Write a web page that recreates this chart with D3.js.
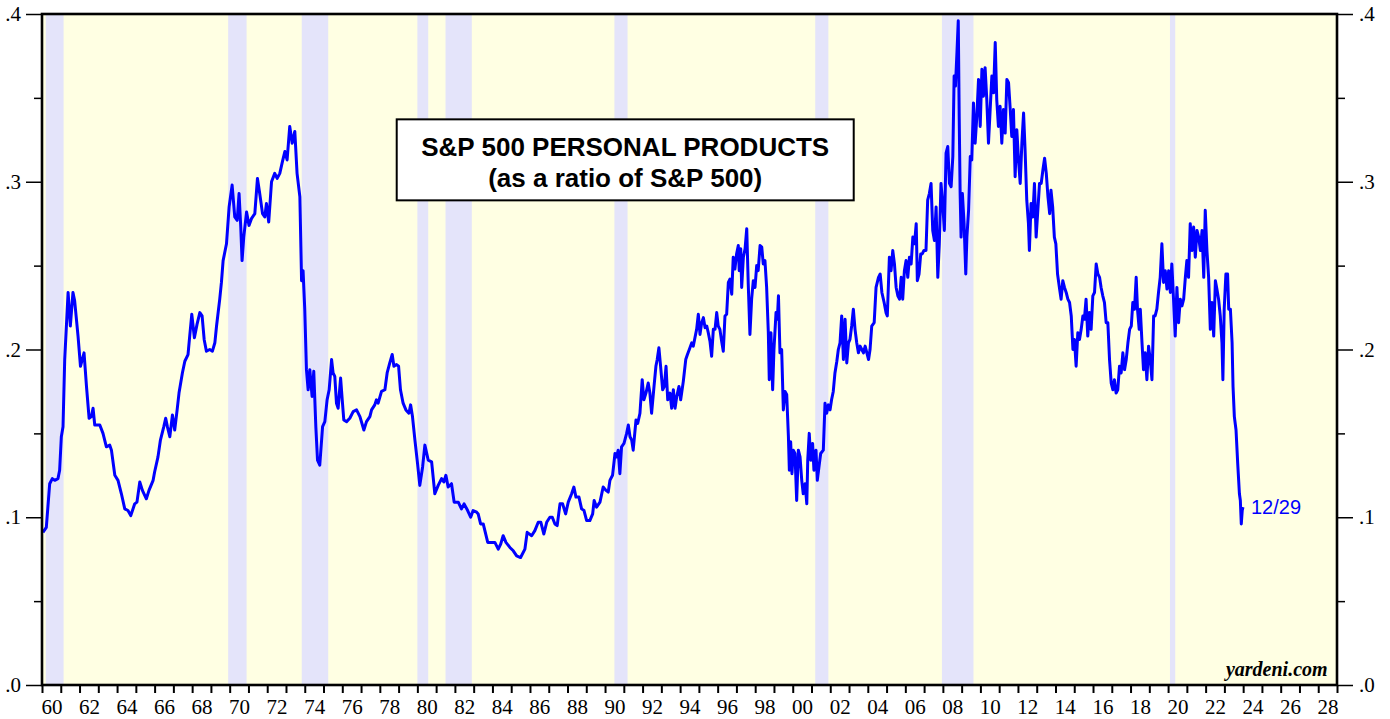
<!DOCTYPE html>
<html>
<head>
<meta charset="utf-8">
<script src="https://cdn.jsdelivr.net/npm/d3@7"></script>
<style>
  body { margin: 0; background: #fff; }
  svg { display: block; }
  .tick text { font-family: "Liberation Serif", "Times New Roman", serif; font-size: 21px; fill: #000; }
</style>
</head>
<body>
<svg width="1390" height="719"></svg>
<script>
// recessions (start, end) in decimal years
const recessions = [
  [1960.2, 1961.15], [1969.92, 1970.9], [1973.84, 1975.25], [1980.0, 1980.58],
  [1981.5, 1982.9], [1990.5, 1991.2], [2001.2, 2001.9], [2007.95, 2009.63], [2020.1, 2020.38]
];

const yTicks = [0, 0.1, 0.2, 0.3, 0.4];
const yMinorTicks = [0.05, 0.15, 0.25, 0.35];
const xLabelYears = d3.range(1960, 2029, 2);

// S&P 500 Personal Products as ratio of S&P 500
const dates = [
  1960.05, 1960.23, 1960.41, 1960.55, 1960.68, 1960.85, 1960.94, 1961.03, 1961.12, 1961.21,
  1961.39, 1961.51, 1961.65, 1961.74, 1961.92, 1962.05, 1962.24, 1962.37, 1962.51, 1962.63,
  1962.72, 1962.81, 1963.08, 1963.25, 1963.43, 1963.61, 1963.70, 1963.88, 1964.05, 1964.23,
  1964.41, 1964.58, 1964.73, 1964.94, 1965.06, 1965.21, 1965.35, 1965.56, 1965.70, 1965.92,
  1966.00, 1966.18, 1966.31, 1966.49, 1966.59, 1966.68, 1966.81, 1966.95, 1967.07, 1967.20,
  1967.30, 1967.48, 1967.61, 1967.78, 1967.87, 1967.98, 1968.12, 1968.26, 1968.41, 1968.53,
  1968.64, 1968.76, 1968.94, 1969.08, 1969.21, 1969.30, 1969.47, 1969.56, 1969.65, 1969.83,
  1969.97, 1970.13, 1970.27, 1970.40, 1970.50, 1970.59, 1970.66, 1970.75, 1970.90, 1971.03,
  1971.16, 1971.34, 1971.48, 1971.60, 1971.75, 1971.87, 1971.96, 1972.08, 1972.23, 1972.40,
  1972.53, 1972.67, 1972.81, 1972.94, 1973.06, 1973.20, 1973.33, 1973.47, 1973.59, 1973.74,
  1973.83, 1973.91, 1974.00, 1974.09, 1974.18, 1974.27, 1974.39, 1974.48, 1974.59, 1974.68,
  1974.80, 1974.95, 1975.07, 1975.19, 1975.30, 1975.43, 1975.51, 1975.60, 1975.69, 1975.78,
  1975.91, 1976.01, 1976.08, 1976.23, 1976.40, 1976.58, 1976.76, 1976.94, 1977.15, 1977.29,
  1977.47, 1977.56, 1977.73, 1977.82, 1977.91, 1978.09, 1978.27, 1978.39, 1978.53, 1978.66,
  1978.75, 1978.89, 1979.00, 1979.10, 1979.24, 1979.39, 1979.55, 1979.64, 1979.74, 1979.87,
  1980.01, 1980.13, 1980.28, 1980.40, 1980.58, 1980.76, 1980.93, 1981.11, 1981.29, 1981.41,
  1981.52, 1981.64, 1981.82, 1981.96, 1982.18, 1982.35, 1982.49, 1982.68, 1982.84, 1982.97,
  1983.16, 1983.24, 1983.37, 1983.51, 1983.75, 1983.96, 1984.13, 1984.31, 1984.44, 1984.57,
  1984.72, 1984.93, 1985.11, 1985.29, 1985.50, 1985.73, 1985.85, 1986.09, 1986.26, 1986.44,
  1986.58, 1986.74, 1986.89, 1987.06, 1987.19, 1987.33, 1987.45, 1987.60, 1987.74, 1987.90,
  1988.04, 1988.22, 1988.34, 1988.45, 1988.61, 1988.75, 1988.88, 1989.02, 1989.19, 1989.34,
  1989.42, 1989.55, 1989.73, 1989.90, 1990.05, 1990.17, 1990.26, 1990.40, 1990.53, 1990.62,
  1990.70, 1990.79, 1990.88, 1991.01, 1991.15, 1991.24, 1991.33, 1991.42, 1991.50, 1991.65,
  1991.74, 1991.86, 1991.98, 1992.07, 1992.18, 1992.30, 1992.39, 1992.48, 1992.61, 1992.71,
  1992.78, 1992.87, 1992.96, 1993.07, 1993.16, 1993.25, 1993.34, 1993.46, 1993.55, 1993.64,
  1993.73, 1993.82, 1993.94, 1994.03, 1994.17, 1994.30, 1994.39, 1994.49, 1994.62, 1994.70,
  1994.79, 1994.88, 1994.97, 1995.06, 1995.15, 1995.24, 1995.33, 1995.42, 1995.50, 1995.59,
  1995.68, 1995.77, 1995.86, 1995.95, 1996.03, 1996.12, 1996.21, 1996.30, 1996.39, 1996.48,
  1996.57, 1996.66, 1996.75, 1996.83, 1996.92, 1997.01, 1997.10, 1997.15, 1997.23, 1997.28,
  1997.37, 1997.46, 1997.55, 1997.63, 1997.72, 1997.81, 1997.90, 1997.99, 1998.08, 1998.16,
  1998.26, 1998.35, 1998.43, 1998.52, 1998.61, 1998.70, 1998.75, 1998.84, 1998.93, 1999.00,
  1999.11, 1999.18, 1999.24, 1999.32, 1999.41, 1999.50, 1999.59, 1999.68, 1999.77, 1999.82,
  1999.89, 1999.96, 2000.03, 2000.12, 2000.21, 2000.30, 2000.39, 2000.48, 2000.56, 2000.66,
  2000.75, 2000.80, 2000.88, 2000.96, 2001.06, 2001.13, 2001.24, 2001.31, 2001.42, 2001.49,
  2001.63, 2001.72, 2001.81, 2001.90, 2001.99, 2002.07, 2002.16, 2002.25, 2002.35, 2002.43,
  2002.52, 2002.61, 2002.70, 2002.79, 2002.88, 2002.97, 2003.05, 2003.14, 2003.23, 2003.32,
  2003.41, 2003.50, 2003.59, 2003.68, 2003.77, 2003.86, 2003.95, 2004.04, 2004.12, 2004.21,
  2004.34, 2004.44, 2004.57, 2004.66, 2004.75, 2004.87, 2004.97, 2005.04, 2005.15, 2005.24,
  2005.33, 2005.42, 2005.51, 2005.60, 2005.69, 2005.78, 2005.86, 2005.95, 2006.04, 2006.13,
  2006.22, 2006.31, 2006.40, 2006.49, 2006.58, 2006.64, 2006.73, 2006.82, 2006.90, 2006.99,
  2007.10, 2007.19, 2007.28, 2007.37, 2007.46, 2007.55, 2007.64, 2007.73, 2007.81, 2007.90,
  2007.99, 2008.08, 2008.17, 2008.26, 2008.35, 2008.44, 2008.53, 2008.60, 2008.67, 2008.75,
  2008.82, 2008.87, 2008.92, 2008.97, 2009.04, 2009.13, 2009.22, 2009.28, 2009.37, 2009.46,
  2009.54, 2009.63, 2009.72, 2009.81, 2009.90, 2009.99, 2010.08, 2010.16, 2010.25, 2010.34,
  2010.43, 2010.52, 2010.61, 2010.70, 2010.79, 2010.87, 2010.96, 2011.05, 2011.14, 2011.23,
  2011.32, 2011.41, 2011.50, 2011.59, 2011.67, 2011.76, 2011.85, 2011.94, 2012.03, 2012.12,
  2012.21, 2012.30, 2012.38, 2012.47, 2012.56, 2012.61, 2012.70, 2012.79, 2012.88, 2012.97,
  2013.06, 2013.15, 2013.24, 2013.33, 2013.42, 2013.51, 2013.60, 2013.69, 2013.76, 2013.85,
  2013.94, 2014.02, 2014.11, 2014.22, 2014.30, 2014.39, 2014.48, 2014.57, 2014.66, 2014.75,
  2014.84, 2014.93, 2015.01, 2015.10, 2015.19, 2015.28, 2015.37, 2015.46, 2015.54, 2015.63,
  2015.72, 2015.81, 2015.90, 2015.99, 2016.08, 2016.17, 2016.26, 2016.35, 2016.43, 2016.52,
  2016.61, 2016.70, 2016.79, 2016.88, 2016.97, 2017.06, 2017.14, 2017.23, 2017.32, 2017.41,
  2017.50, 2017.59, 2017.68, 2017.77, 2017.86, 2017.95, 2018.04, 2018.12, 2018.21, 2018.30,
  2018.37, 2018.46, 2018.52, 2018.61, 2018.69, 2018.78, 2018.87, 2018.96, 2019.05, 2019.14,
  2019.23, 2019.31, 2019.40, 2019.49, 2019.58, 2019.67, 2019.76, 2019.85, 2019.94, 2020.03,
  2020.12, 2020.20, 2020.29, 2020.38, 2020.47, 2020.56, 2020.65, 2020.74, 2020.83, 2020.92,
  2021.00, 2021.09, 2021.18, 2021.27, 2021.36, 2021.45, 2021.54, 2021.63, 2021.72, 2021.81,
  2021.90, 2021.98, 2022.07, 2022.16, 2022.25, 2022.34, 2022.43, 2022.52, 2022.60, 2022.69,
  2022.78, 2022.87, 2022.92, 2022.99, 2023.08, 2023.17, 2023.23, 2023.32, 2023.41, 2023.46,
  2023.53, 2023.62, 2023.71, 2023.80, 2023.85, 2023.90, 2023.95, 2023.99
];

const ratios = [
  .091, .094, .120, .123, .122, .123, .128, .148, .154, .194,
  .234, .214, .234, .229, .208, .190, .198, .178, .159, .160,
  .165, .155, .155, .150, .142, .143, .140, .125, .122, .114,
  .105, .104, .101, .108, .109, .121, .116, .111, .116, .122,
  .127, .136, .146, .154, .159, .154, .148, .161, .152, .164,
  .174, .186, .193, .197, .208, .221, .207, .215, .222, .220,
  .206, .199, .200, .199, .204, .214, .230, .240, .253, .263,
  .285, .298, .279, .277, .293, .273, .253, .267, .282, .274,
  .278, .281, .302, .293, .281, .279, .287, .276, .300, .305,
  .302, .305, .312, .318, .313, .333, .323, .330, .305, .291,
  .241, .247, .224, .188, .176, .188, .172, .187, .154, .134,
  .131, .154, .157, .170, .176, .194, .186, .184, .168, .165,
  .183, .168, .158, .157, .159, .163, .164, .160, .152, .157,
  .160, .164, .167, .170, .168, .175, .176, .186, .192, .197,
  .190, .191, .190, .176, .168, .164, .162, .167, .160, .146,
  .132, .119, .130, .143, .134, .133, .114, .119, .123, .121,
  .125, .118, .120, .109, .109, .105, .108, .104, .100, .104,
  .103, .102, .096, .096, .085, .085, .085, .081, .084, .089,
  .085, .082, .080, .077, .076, .081, .091, .089, .092, .097,
  .097, .090, .097, .100, .100, .096, .095, .108, .108, .102,
  .109, .114, .118, .112, .112, .105, .104, .098, .098, .102,
  .110, .106, .109, .118, .116, .115, .122, .125, .138, .136,
  .140, .126, .142, .144, .150, .155, .148, .146, .140, .158,
  .156, .162, .182, .170, .174, .180, .174, .162, .178, .190,
  .194, .201, .190, .176, .178, .190, .170, .174, .165, .176,
  .165, .172, .178, .170, .181, .194, .197, .200, .204, .202,
  .207, .212, .221, .209, .216, .219, .213, .214, .210, .205,
  .196, .212, .212, .222, .214, .212, .205, .199, .220, .221,
  .240, .242, .233, .255, .248, .257, .262, .247, .260, .237,
  .255, .260, .272, .239, .209, .230, .241, .237, .250, .247,
  .262, .261, .251, .253, .237, .210, .182, .210, .176, .200,
  .222, .218, .232, .198, .200, .164, .175, .173, .148, .128,
  .145, .126, .140, .138, .110, .140, .136, .122, .114, .120,
  .108, .134, .150, .134, .144, .128, .140, .122, .132, .138,
  .140, .168, .162, .167, .164, .170, .175, .186, .193, .200,
  .204, .220, .194, .218, .192, .204, .206, .214, .224, .212,
  .204, .198, .202, .200, .198, .202, .198, .194, .200, .214,
  .216, .237, .243, .245, .234, .228, .222, .220, .255, .247,
  .259, .251, .237, .232, .230, .243, .230, .247, .253, .243,
  .255, .251, .267, .263, .275, .241, .245, .257, .257, .259,
  .259, .289, .293, .299, .271, .265, .285, .243, .263, .299,
  .287, .271, .317, .321, .299, .297, .315, .363, .357, .377,
  .396, .339, .293, .267, .293, .275, .245, .267, .283, .315,
  .313, .347, .323, .339, .361, .333, .367, .351, .368, .349,
  .323, .343, .363, .353, .383, .349, .333, .345, .323, .343,
  .329, .361, .359, .343, .327, .343, .303, .331, .313, .299,
  .323, .341, .319, .289, .275, .259, .287, .279, .299, .267,
  .283, .299, .299, .307, .314, .305, .291, .281, .295, .285,
  .267, .263, .245, .236, .230, .241, .237, .234, .230, .228,
  .220, .200, .206, .190, .210, .206, .212, .220, .218, .230,
  .208, .222, .212, .232, .234, .251, .245, .243, .237, .232,
  .228, .216, .216, .194, .180, .176, .182, .174, .176, .190,
  .186, .198, .188, .194, .204, .212, .214, .228, .224, .243,
  .224, .212, .224, .204, .188, .198, .182, .202, .194, .182,
  .220, .220, .224, .234, .243, .263, .240, .247, .236, .247,
  .234, .251, .230, .208, .237, .216, .230, .226, .230, .243,
  .253, .243, .275, .259, .273, .255, .271, .267, .259, .271,
  .243, .283, .259, .243, .212, .228, .208, .241, .236, .230,
  .220, .204, .182, .224, .245, .245, .224, .224, .204, .178,
  .160, .152, .132, .114, .110, .096, .104, .106
];

const W = 1390, H = 719;
const margin = { top: 14, right: 53, bottom: 34, left: 42 };
const width = W - margin.left - margin.right;
const height = H - margin.top - margin.bottom;

const x = d3.scaleLinear().domain([1960, 2029]).range([0, width]);
const y = d3.scaleLinear().domain([0, 0.4]).range([height, 0]);

const svg = d3.select('svg');
const g = svg.append('g')
    .attr('transform', `translate(${margin.left},${margin.top})`);

// plot background
g.append('rect')
    .attr('width', width)
    .attr('height', height)
    .attr('fill', '#ffffe3');

g.selectAll('.recession')
    .data(recessions)
    .join('rect')
    .attr('class', 'recession')
    .attr('x', d => x(d[0]))
    .attr('width', d => x(d[1]) - x(d[0]))
    .attr('y', 0)
    .attr('height', height)
    .attr('fill', '#e4e4fa');

// title box
const box = g.append('g').attr('transform', `translate(${x(1978.9)},${y(0.3372)})`);
box.append('rect')
    .attr('width', 457)
    .attr('height', 81)
    .attr('fill', '#fff')
    .attr('stroke', '#000')
    .attr('stroke-width', 2);
box.append('text')
    .attr('x', 228.5).attr('y', 37)
    .attr('text-anchor', 'middle')
    .style('font', 'bold 26px "Liberation Sans", Arial, sans-serif')
    .text('S&P 500 PERSONAL PRODUCTS');
box.append('text')
    .attr('x', 228.5).attr('y', 68)
    .attr('text-anchor', 'middle')
    .style('font', 'bold 26px "Liberation Sans", Arial, sans-serif')
    .text('(as a ratio of S&P 500)');

// series
const series = dates.map((d, i) => [d, ratios[i]]);
const line = d3.line().x(d => x(d[0])).y(d => y(d[1]));
g.append('path')
    .datum(series)
    .attr('fill', 'none')
    .attr('stroke', '#0000ff')
    .attr('stroke-width', 3)
    .attr('stroke-linejoin', 'round')
    .attr('d', line);

const last = series[series.length - 1];
g.append('text')
    .attr('x', x(last[0]) + 8)
    .attr('y', y(last[1]) + 7)
    .attr('fill', '#0000ff')
    .style('font', '20px "Liberation Sans", Arial, sans-serif')
    .text('12/29');

g.append('text')
    .attr('x', x(2028.5))
    .attr('y', height - 9)
    .attr('text-anchor', 'end')
    .style('font', 'italic bold 20px "Liberation Serif", "Times New Roman", serif')
    .text('yardeni.com');

// axes
const yFmt = d => d3.format('.1f')(d).replace(/^0/, '');

g.append('g')
    .call(d3.axisLeft(y).tickValues(yTicks).tickSize(16).tickPadding(5).tickFormat(yFmt))
    .call(a => a.select('.domain').remove())
    .call(a => a.selectAll('line').attr('stroke-width', 1.5));
g.append('g')
    .call(d3.axisLeft(y).tickValues(yMinorTicks).tickSize(8).tickFormat(''))
    .call(a => a.select('.domain').remove())
    .call(a => a.selectAll('line').attr('stroke-width', 1.5));

g.append('g')
    .attr('transform', `translate(${width},0)`)
    .call(d3.axisRight(y).tickValues(yTicks).tickSize(16).tickPadding(6).tickFormat(yFmt))
    .call(a => a.select('.domain').remove())
    .call(a => a.selectAll('line').attr('stroke-width', 1.5));
g.append('g')
    .attr('transform', `translate(${width},0)`)
    .call(d3.axisRight(y).tickValues(yMinorTicks).tickSize(8).tickFormat(''))
    .call(a => a.select('.domain').remove())
    .call(a => a.selectAll('line').attr('stroke-width', 1.5));

g.append('g')
    .attr('transform', `translate(0,${height})`)
    .call(d3.axisBottom(x).tickValues(d3.range(1960, 2030)).tickSize(8).tickFormat(''))
    .call(a => a.select('.domain').remove())
    .call(a => a.selectAll('line').attr('stroke-width', 2));

g.append('g')
    .attr('transform', `translate(0,${height})`)
    .call(d3.axisBottom(x).tickValues(xLabelYears.map(d => d + 0.5)).tickSize(0).tickPadding(14)
      .tickFormat(d => String(Math.floor(d) % 100).padStart(2, '0')))
    .call(a => a.select('.domain').remove());

// frame
g.append('rect')
    .attr('width', width)
    .attr('height', height)
    .attr('fill', 'none')
    .attr('stroke', '#000')
    .attr('stroke-width', 2.6);
</script>
</body>
</html>
